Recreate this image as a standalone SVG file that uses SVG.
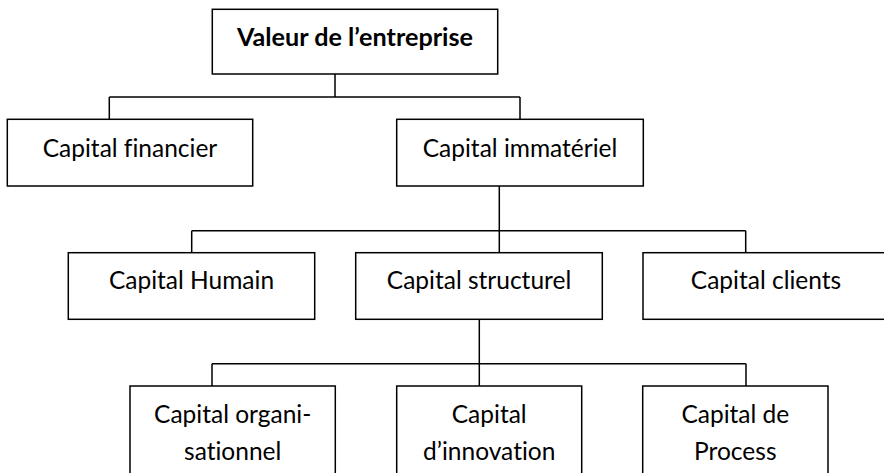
<svg xmlns="http://www.w3.org/2000/svg" width="884" height="473" viewBox="0 0 884 473">
<style>
.box{fill:#fff;stroke:#000;stroke-width:1.5}
.ln{fill:none;stroke:#000;stroke-width:1.5}
text{font-family:Lato,"Open Sans","Liberation Sans",sans-serif;font-size:24.5px;fill:#000;text-anchor:middle;font-variant-ligatures:none;font-feature-settings:"liga" 0,"dlig" 0}
.b{font-weight:bold;font-size:25.2px}
</style>
<rect width="884" height="473" fill="#fff"/>
<g id="connectors">
<path class="ln" d="M335,74V97M109.3,97H520M109.3,97V119.3M520,97V119.3"/>
<path class="ln" d="M499.3,186V252.7M191.7,230.7H745.7M191.7,230.7V252.7M745.7,230.7V252.7"/>
<path class="ln" d="M479.3,319.3V386M212,363.7H746M212,363.7V386M746,363.7V386"/>
</g>
<g id="valeur"><rect class="box" x="212.3" y="9.3" width="285.4" height="64.7"/><text class="b" x="355" y="45.7">Valeur de l’entreprise</text></g>
<g id="financier"><rect class="box" x="7.3" y="119.3" width="245.4" height="66.7"/><text x="130" y="157">Capital financier</text></g>
<g id="immateriel"><rect class="box" x="396.7" y="119.3" width="246.6" height="66.7"/><text x="520" y="157">Capital immatériel</text></g>
<g id="humain"><rect class="box" x="68.3" y="252.7" width="246.4" height="66.6"/><text x="191.5" y="289">Capital Humain</text></g>
<g id="structurel"><rect class="box" x="355.7" y="252.7" width="246.6" height="66.6"/><text x="479" y="289">Capital structurel</text></g>
<g id="clients"><rect class="box" x="643" y="252.7" width="246" height="66.6"/><text x="766" y="289">Capital clients</text></g>
<g id="organisationnel"><rect class="box" x="130" y="386" width="205.3" height="100"/><text x="232.7" y="423.3">Capital organi-</text><text x="232.7" y="460">sationnel</text></g>
<g id="innovation"><rect class="box" x="396.7" y="386" width="185" height="100"/><text x="489.2" y="423.3">Capital</text><text x="489.2" y="460">d’innovation</text></g>
<g id="process"><rect class="box" x="642.7" y="386" width="185.3" height="100"/><text x="735.3" y="423.3">Capital de</text><text x="735.3" y="460">Process</text></g>
</svg>
